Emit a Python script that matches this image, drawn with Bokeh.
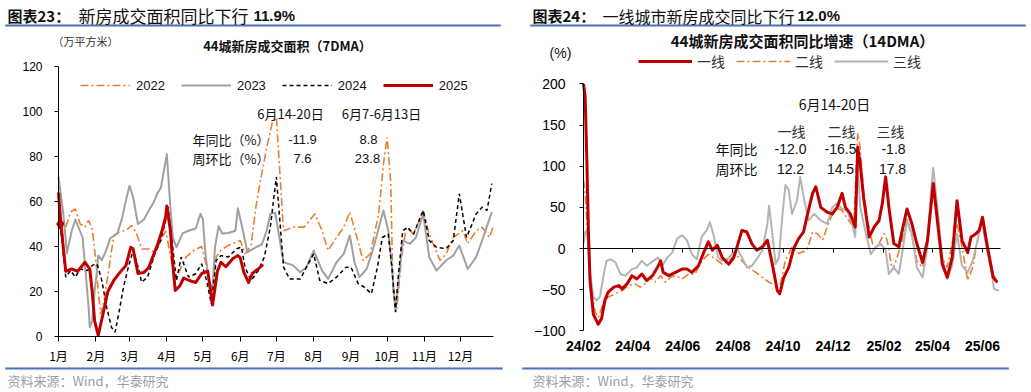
from bokeh.plotting import figure
from bokeh.models import Range1d, FixedTicker, Label, Legend, LegendItem, LinearAxis
from bokeh.layouts import row
from bokeh.embed import file_html
from bokeh.resources import INLINE

LAT = "Liberation Sans"
CJK = "Noto Sans CJK SC"
RED = "#c00000"
ORANGE = "#ed7d31"
GRAY_L = "#a0a0a0"
GRAY_R = "#b4b4b4"
BLUE = "#4f79b8"
W_L, W_R, H = 515, 515, 390

# ---------------- left chart data (day of year, 万平方米, 7DMA) ----------------
month_ticks = [1, 32, 60, 91, 121, 152, 182, 213, 244, 274, 305, 335]
month_labels = ["1月", "2月", "3月", "4月", "5月", "6月", "7月", "8月", "9月", "10月", "11月", "12月"]

d2022 = [1, 4, 11, 15, 19, 23, 26, 29, 32, 34, 36, 39, 43, 47, 51, 57, 62, 66, 70, 76, 81, 87, 90, 94, 98,
         107, 114, 120, 124, 128, 132, 136, 142, 149, 152, 156, 161, 165, 168, 174, 179, 182, 188, 196, 205,
         214, 220, 225, 232, 238, 243, 249, 254, 260, 267, 271, 274, 277, 279, 282, 286, 290, 296, 304, 309,
         318, 323, 329, 337, 341, 348, 353, 359, 362]
v2022 = [52, 43.4, 55.3, 56.7, 50, 48.6, 51.6, 47.9, 33.8, 20.4, 10, 16, 30.8, 44.9, 46.4, 47.1, 49.4, 45.6,
         38.9, 38.9, 37.5, 43.4, 47, 36, 25, 35.3, 38.5, 40, 31, 20.4, 35.3, 38.5, 40.4, 42, 42.7, 36.7, 40.4,
         57.5, 67, 84, 96, 97.5, 47, 48.6, 48.6, 54.5, 47, 38.2, 44, 48.6, 55.3, 44, 33.8, 36.7, 54.5, 76.7,
         88.5, 69, 18.8, 11.6, 35.3, 48.6, 45.5, 56, 45.5, 33.8, 36.7, 44, 47, 41.2, 47, 48.6, 44, 48.6]

d2023 = [1, 5, 8, 12, 15, 21, 23, 26, 27, 29, 31, 33, 34, 37, 40, 44, 50, 54, 57, 60, 63, 67, 72, 76, 80,
         83, 86, 91, 94, 96, 99, 104, 109, 115, 119, 121, 123, 126, 129, 131, 134, 137, 142, 148, 150, 153,
         158, 165, 170, 174, 177, 181, 188, 196, 202, 207, 213, 220, 225, 232, 238, 243, 247, 251, 257, 262,
         271, 275, 278, 281, 283, 287, 293, 298, 304, 309, 315, 323, 329, 334, 341, 348, 353, 361]
v2023 = [71, 54.5, 37, 47, 52, 44, 32, 13, 4, 7, 20, 29.5, 36, 34, 37.5, 43.6, 45.8, 53, 60.4, 67, 62, 50,
         52, 56, 59.5, 63.5, 66, 81, 57, 44, 39.6, 45.8, 47, 48, 54.5, 52, 37, 25, 20.4, 39.6, 49, 45.8, 46,
         47, 57, 50, 37.5, 39.6, 41, 47, 54.5, 55, 33, 31.6, 28.6, 30.8, 38.2, 29.3, 25.6, 33, 36.7, 44.9,
         33, 26.4, 30, 38.2, 56, 47, 30.8, 11.6, 22, 42.7, 41.2, 44, 54.5, 35.3, 29.3, 33.8, 36, 40.4, 30,
         35.3, 42.7, 55.3]

d2024 = [1, 3, 7, 11, 15, 19, 25, 29, 33, 37, 41, 45, 48, 51, 55, 59, 63, 68, 70, 75, 81, 86, 90, 92, 95,
         99, 103, 109, 115, 120, 124, 128, 132, 136, 142, 149, 153, 156, 161, 167, 172, 177, 182, 188, 193,
         202, 207, 213, 218, 225, 232, 240, 244, 250, 255, 261, 266, 270, 275, 278, 281, 283, 287, 291, 296,
         304, 309, 315, 323, 329, 334, 340, 348, 353, 357, 361]
v2024 = [62, 47, 26.4, 29.3, 26.4, 30, 29.3, 31.6, 32.3, 24.9, 13, 4.1, 1.9, 10, 21.9, 30.8, 38.2, 29.3,
         24.1, 26.4, 36.7, 42.7, 51.6, 57.5, 44, 24.9, 35.3, 26.4, 27.9, 32.3, 24.9, 14.5, 33.8, 36, 35.3,
         39, 39.7, 30.8, 24.9, 29.3, 35.3, 48.6, 70.9, 30.8, 25.6, 25.6, 30.8, 36.7, 25, 23.5, 26.4, 30.8,
         30.8, 23.5, 22, 19, 30.8, 44, 45.5, 30.8, 10.8, 25, 47, 48.6, 45.5, 56, 42.7, 39.7, 39, 42.7, 63.4,
         44, 54.5, 57.5, 56, 67.9]

d2025 = [1, 3, 7, 12, 17, 23, 27, 29, 31, 34, 38, 42, 47, 52, 57, 61, 63, 67, 72, 76, 79, 83, 87, 90, 91,
         94, 96, 98, 102, 105, 109, 115, 120, 125, 129, 133, 136, 140, 146, 150, 152, 155, 159, 162, 167, 171]
v2025 = [64, 50, 29, 30, 29, 33, 30, 20, 7, 0.5, 10, 20, 25, 28.5, 31.5, 39.6, 39, 28, 28.5, 30.7, 35, 40.4,
         47, 53, 58, 47, 32, 20.4, 22.7, 26, 25, 24, 28, 29, 14, 29, 33, 31, 34.7, 36, 35, 28.5, 24, 28, 30, 32]
mark_day = [2.5]
mark_val = [50]

# ---------------- right chart data (days since 2024-02-01, % YoY, 14DMA) ----------------
right_ticks = [0, 60, 121, 182, 243, 304, 366, 425, 486]
right_labels = ["24/02", "24/04", "24/06", "24/08", "24/10", "24/12", "25/02", "25/04", "25/06"]

d_t1 = [0, 2, 4, 6, 8, 12, 18, 22, 26, 30, 37, 43, 47, 53, 59, 65, 71, 77, 84, 90, 94, 97, 104, 112, 120,
        126, 132, 140, 146, 152, 157, 163, 169, 177, 183, 187, 193, 199, 205, 211, 218, 224, 230, 236, 239,
        244, 250, 256, 262, 268, 272, 279, 283, 289, 297, 303, 309, 315, 319, 325, 331, 334, 337, 341, 348,
        354, 360, 364, 368, 372, 378, 384, 390, 394, 400, 406, 413, 419, 426, 431, 437, 443, 449, 455, 461,
        468, 472, 478, 482, 486, 492, 499, 504]
v_t1 = [200, 185, 110, 20, -40, -80, -92, -85, -63, -53, -47, -45, -49, -43, -33, -37, -31, -39, -33, -23,
        -15, -29, -33, -29, -25, -25, -29, -21, -6, 8, -2, 4, -11, -19, -11, 2, 22, 20, 6, -2, 2, 10, -19,
        -51, -55, -35, -23, 0, 12, 20, 38, 67, 75, 50, 44, 42, 50, 67, 50, 42, 26, 123, 103, 63, 14, 26, 34,
        55, 87, 50, 6, 2, 30, 48, 30, 6, -17, 10, 79, 34, -19, -35, -11, 58, 10, -5, 14, 18, 22, 38, 2, -35, -41]

d_t2 = [0, 2, 4, 8, 14, 18, 24, 30, 39, 47, 55, 63, 69, 75, 81, 87, 94, 100, 106, 112, 120, 128, 136, 144,
        152, 161, 169, 177, 185, 193, 201, 210, 218, 226, 234, 240, 246, 254, 262, 272, 279, 285, 291, 299,
        307, 315, 323, 329, 334, 337, 341, 346, 352, 358, 366, 370, 376, 382, 388, 394, 400, 406, 413, 419,
        426, 431, 437, 443, 449, 455, 461, 468, 474, 480, 485, 492, 498, 504]
v_t2 = [83, 67, 34, -43, -76, -84, -67, -59, -55, -51, -45, -43, -47, -43, -35, -41, -33, -41, -35, -33,
        -37, -31, -31, -15, -7, -13, -19, -15, -7, -15, -23, -29, -35, -41, -45, -43, -14, 2, -6, -2, 20,
        18, 10, 32, 50, 46, 34, 26, 140, 123, 71, 34, 6, 2, 18, 10, -27, -11, 10, 38, 14, -15, -23, 10, 75,
        34, -11, -23, 6, 30, 2, -39, -23, 10, 34, 2, -27, -43]

d_t3 = [0, 2, 4, 6, 8, 12, 16, 20, 24, 28, 33, 39, 45, 51, 59, 65, 71, 77, 85, 91, 96, 102, 108, 114, 120,
        126, 132, 138, 144, 150, 154, 159, 164, 169, 175, 181, 187, 193, 199, 205, 211, 218, 224, 226, 230,
        234, 238, 242, 246, 250, 254, 260, 264, 268, 274, 281, 289, 297, 303, 309, 315, 321, 327, 331, 334,
        337, 344, 350, 356, 362, 368, 372, 378, 384, 388, 394, 400, 406, 413, 419, 423, 426, 431, 437, 443,
        449, 455, 461, 468, 474, 480, 485, 490, 496, 500, 506]
v_t3 = [6, 20, 22, -2, -30, -59, -63, -59, -35, -15, -13, -17, -31, -33, -25, -23, -15, -21, -15, -11, -21,
        -11, -5, 12, 16, 10, -7, -13, 14, 22, 32, 14, -11, -15, -13, -7, 0, -11, -23, -21, -13, -2, 30, 52,
        18, -19, -11, 38, 77, 71, 42, 58, 87, 63, 34, 42, 34, 30, 50, 55, 48, 46, 30, 14, 103, 50, 18, -7, 2,
        6, -2, -31, -23, -31, -7, 34, 18, -23, -35, 2, 67, 98, 50, -11, -37, -21, 18, -21, -29, -15, 10, 34,
        6, -23, -49, -51]


def lab(p, sx, sy, text, size, font=CJK, color="#111111", bold=False, align="left"):
    p.add_layout(Label(x=sx, y=sy, x_units="screen", y_units="screen", text=text,
                       text_font=font, text_font_size=f"{size}px", text_color=color,
                       text_font_style="bold" if bold else "normal",
                       text_align=align, text_baseline="middle"))


def hrules(p, spans):
    # page-decoration rules: (x0, x1, y) in canvas pixels, converted to the figure's data space
    xr, yr = p.x_range, p.y_range
    fx = lambda v: xr.start + (xr.end - xr.start) * v / W_L
    fy = lambda v: yr.end - (yr.end - yr.start) * v / H
    p.quad(left=[fx(a) for a, b, c in spans], right=[fx(b) for a, b, c in spans],
           top=[fy(c - 0.8) for a, b, c in spans], bottom=[fy(c + 0.8) for a, b, c in spans],
           fill_color=BLUE, fill_alpha=1.0, line_color=BLUE, line_width=0.5)


def base_fig(w, xr, yr):
    p = figure(width=w, height=H, output_backend="svg", toolbar_location=None, title=None,
               x_range=Range1d(start=xr[0], end=xr[1]), y_range=Range1d(start=yr[0], end=yr[1]),
               x_axis_location=None, y_axis_location=None,
               min_border=0, min_border_left=0, min_border_right=0, min_border_top=0, min_border_bottom=0)
    p.xgrid.visible = False
    p.ygrid.visible = False
    p.outline_line_color = None
    p.background_fill_color = "white"
    p.border_fill_color = "white"
    return p


def style_axis(ax, size, font=LAT, bold=False, standoff=8, tick_out=4):
    ax.major_label_text_font = font
    ax.major_label_text_font_size = f"{size}px"
    ax.major_label_text_font_style = "bold" if bold else "normal"
    ax.major_label_text_color = "black"
    ax.major_tick_out = tick_out
    ax.major_tick_in = 0
    ax.minor_tick_line_color = None
    ax.major_label_standoff = standoff
    ax.axis_line_color = "black"
    ax.major_tick_line_color = "black"


# ================= LEFT =================
# frame = whole canvas; day 1 at x=58px, 1.2036 px/day; value 0 at y=336px, 2.25 px/unit
kx, ky = 1.2036, 2.25
p1 = base_fig(W_L, (1 - 58 / kx, 1 + (W_L - 58) / kx), (-(H - 336) / ky, 336 / ky))
hrules(p1, [(5, 500, 25), (5, 502, 368)])

r22 = p1.line(d2022, v2022, line_color=ORANGE, line_width=1.6, line_dash="8 3 2 3")
r23 = p1.line(d2023, v2023, line_color=GRAY_L, line_width=2, line_join="round")
r24 = p1.line(d2024, v2024, line_color="black", line_width=1.5, line_dash="4 3")
r25 = p1.line(d2025, v2025, line_color=RED, line_width=3, line_join="round")
p1.scatter(mark_day, mark_val, marker="diamond", size=11, color=RED)

xa1 = LinearAxis(fixed_location=0, bounds=(1, 362.4), ticker=FixedTicker(ticks=month_ticks),
                 major_label_overrides={t: l for t, l in zip(month_ticks, month_labels)})
style_axis(xa1, 12, font=CJK, standoff=5, tick_out=5)
p1.add_layout(xa1, "below")
ya1 = LinearAxis(fixed_location=1, bounds=(0, 120), ticker=FixedTicker(ticks=[0, 20, 40, 60, 80, 100, 120]))
style_axis(ya1, 12, standoff=12, tick_out=4)
p1.add_layout(ya1, "left")

leg1 = Legend(items=[LegendItem(label="2022", renderers=[r22]), LegendItem(label="2023", renderers=[r23]),
                     LegendItem(label="2024", renderers=[r24]), LegendItem(label="2025", renderers=[r25])],
              orientation="horizontal", location=(80, H - 93), glyph_width=50, glyph_height=16,
              label_height=16, label_standoff=6, spacing=16, padding=0, margin=0,
              border_line_color=None, background_fill_alpha=0,
              label_text_font=LAT, label_text_font_size="13px", label_text_color="#111111")
p1.add_layout(leg1)

# left texts (sx = rx, sy = H-ry)
lab(p1, 7, H - 15, "图表23：", 15, bold=True)
lab(p1, 78, H - 15, "新房成交面积同比下行", 17)
lab(p1, 253, H - 15, "11.9%", 15, font=LAT, bold=True)
lab(p1, 52, H - 40, "（万平方米）", 11, color="#333333")
lab(p1, 287, H - 45, "44城新房成交面积（7DMA）", 13, bold=True, align="center")
lab(p1, 290, H - 113, "6月14-20日", 13, align="center")
lab(p1, 381, H - 113, "6月7-6月13日", 13, align="center")
lab(p1, 192, H - 139, "年同比（%）", 13)
lab(p1, 192, H - 158, "周环比（%）", 13)
lab(p1, 302, H - 139, "-11.9", 13, font=LAT, align="center")
lab(p1, 368, H - 139, "8.8", 13, font=LAT, align="center")
lab(p1, 302, H - 158, "7.6", 13, font=LAT, align="center")
lab(p1, 367, H - 158, "23.8", 13, font=LAT, align="center")
lab(p1, 7, H - 380, "资料来源：Wind，华泰研究", 13, color="#a0a0a0")

# ================= RIGHT =================
# frame = whole canvas; day 0 at x=68px (page 583), 0.821 px/day; value 0 at y=248px, 0.8233 px/unit
OX = W_L
sx0, qx, qy = 583 - OX, 0.821, 0.8233
p2 = base_fig(W_R, (-sx0 / qx, (W_R - sx0) / qx), (-(H - 248) / qy, 248 / qy))
hrules(p2, [(530 - OX, 1025 - OX, 25), (522 - OX, 1008 - OX, 368)])

r_t2 = p2.line(d_t2, v_t2, line_color=ORANGE, line_width=1.6, line_dash="8 3 2 3")
r_t3 = p2.line(d_t3, v_t3, line_color=GRAY_R, line_width=2, line_join="round")
r_t1 = p2.line(d_t1, v_t1, line_color=RED, line_width=3, line_join="round")

# zero line with ticks, labels drawn at the bottom of the plot area
xa2 = LinearAxis(fixed_location=0, bounds=(0, 508), ticker=FixedTicker(ticks=right_ticks),
                 major_label_overrides={t: l for t, l in zip(right_ticks, right_labels)})
style_axis(xa2, 14, bold=True, standoff=85, tick_out=4)
p2.add_layout(xa2, "below")
ya2 = LinearAxis(fixed_location=0, bounds=(-100, 200), ticker=FixedTicker(ticks=[-100, -50, 0, 50, 100, 150, 200]))
style_axis(ya2, 14, standoff=14, tick_out=4)
p2.add_layout(ya2, "left")

leg2 = Legend(items=[LegendItem(label="一线", renderers=[r_t1]), LegendItem(label="二线", renderers=[r_t2]),
                     LegendItem(label="三线", renderers=[r_t3])],
              orientation="horizontal", location=(638 - OX, H - 71), glyph_width=54, glyph_height=16,
              label_height=16, label_standoff=5, spacing=11, padding=0, margin=0,
              border_line_color=None, background_fill_alpha=0,
              label_text_font=CJK, label_text_font_size="14px", label_text_color="#333333")
p2.add_layout(leg2)

# right texts (sx = rx-OX, sy = H-ry)
lab(p2, 532 - OX, H - 15, "图表24：", 15, bold=True)
lab(p2, 602 - OX, H - 15, "一线城市新房成交同比下行", 16)
lab(p2, 797 - OX, H - 15, "12.0%", 15, font=LAT, bold=True)
lab(p2, 802 - OX, H - 40, "44城新房成交面积同比增速（14DMA）", 15, bold=True, align="center")
lab(p2, 560 - OX, H - 52, "(%)", 14, font=LAT, align="center")
lab(p2, 834 - OX, H - 103, "6月14-20日", 14, align="center")
lab(p2, 791 - OX, H - 130, "一线", 14, align="center", color="#333333")
lab(p2, 841 - OX, H - 130, "二线", 14, align="center", color="#333333")
lab(p2, 890 - OX, H - 130, "三线", 14, align="center", color="#333333")
lab(p2, 715 - OX, H - 148, "年同比", 14)
lab(p2, 715 - OX, H - 168, "周环比", 14)
lab(p2, 790 - OX, H - 148, "-12.0", 14, font=LAT, align="center")
lab(p2, 840 - OX, H - 148, "-16.5", 14, font=LAT, align="center")
lab(p2, 893 - OX, H - 148, "-1.8", 14, font=LAT, align="center")
lab(p2, 790 - OX, H - 168, "12.2", 14, font=LAT, align="center")
lab(p2, 840 - OX, H - 168, "14.5", 14, font=LAT, align="center")
lab(p2, 892 - OX, H - 168, "17.8", 14, font=LAT, align="center")
lab(p2, 532 - OX, H - 380, "资料来源：Wind，华泰研究", 13, color="#a0a0a0")

p = row(p1, p2)
open("out.html", "w").write(file_html(p, INLINE))
